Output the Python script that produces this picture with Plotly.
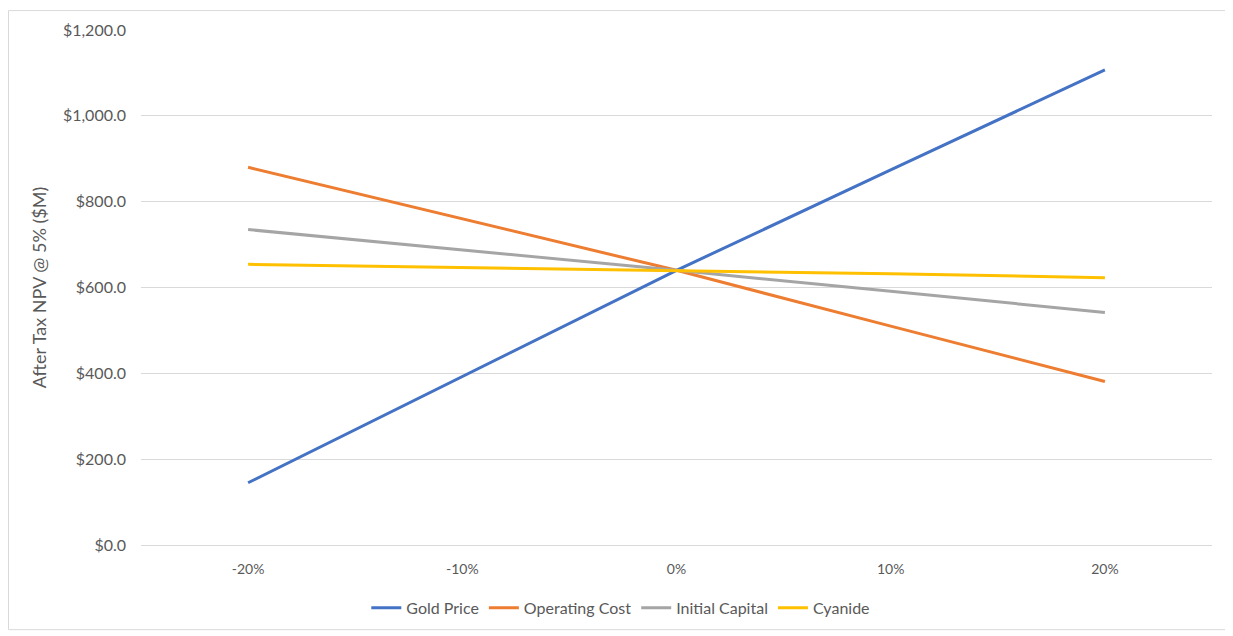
import plotly.graph_objects as go

categories = ["-20%", "-10%", "0%", "10%", "20%"]
gold_price = [145, 392, 640, 874, 1107]
operating_cost = [880, 760, 640, 510, 381]
initial_capital = [735, 688, 640, 591, 542]
cyanide = [654, 647, 640, 632, 623]

series = [
    ("Gold Price", gold_price, "#4472C4"),
    ("Operating Cost", operating_cost, "#ED7D31"),
    ("Initial Capital", initial_capital, "#A5A5A5"),
    ("Cyanide", cyanide, "#FFC000"),
]

FONT = "Lato, 'Open Sans', sans-serif"
TXT = "#595959"
GRID = "#D9D9D9"

fig = go.Figure()
for name, vals, col in series:
    fig.add_trace(go.Scatter(
        x=categories, y=vals, name=name, mode="lines",
        line=dict(color=col, width=3),
    ))

fig.update_layout(
    width=1233, height=636,
    paper_bgcolor="white", plot_bgcolor="white",
    margin=dict(l=133, r=29, t=20, b=99),
    font=dict(family=FONT, size=13, color=TXT),
    showlegend=True,
    legend=dict(orientation="h", x=0.448, xanchor="center", y=-0.122, yanchor="middle",
                font=dict(size=16, color=TXT), itemwidth=30, tracegroupgap=0),
    xaxis=dict(type="category", range=[-0.5, 4.5], showgrid=False,
               showline=True, linecolor=GRID, linewidth=1,
               ticks="", tickfont=dict(size=14, color=TXT), ticklabelstandoff=11),
    yaxis=dict(range=[0, 1200], dtick=200, tickprefix="$", tickformat=",.1f",
               showgrid=True, gridcolor=GRID, gridwidth=1, zeroline=False,
               ticks="", tickfont=dict(size=16, color=TXT), ticklabelstandoff=14,
               title=dict(text="After Tax NPV @ 5% ($M)", font=dict(size=18, color=TXT), standoff=11)),
    shapes=[dict(type="rect", xref="paper", yref="paper",
                 x0=-0.1237, x1=1.0131, y0=-0.1644, y1=1.0377,
                 line=dict(color=GRID, width=1), fillcolor="rgba(0,0,0,0)", layer="below")],
)

fig.write_html("out.html")
